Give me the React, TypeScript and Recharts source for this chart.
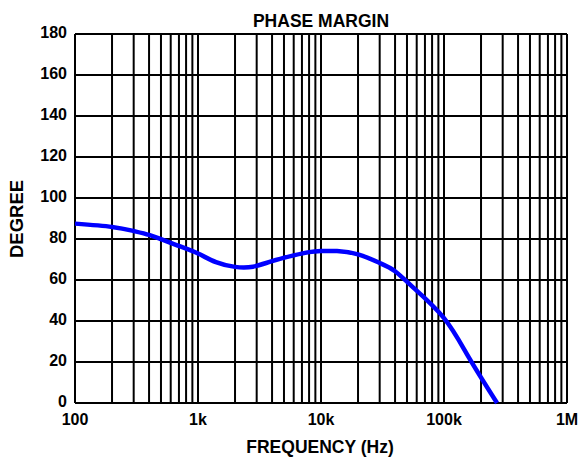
import { LineChart, Line, XAxis, YAxis, CartesianGrid } from "recharts";

const frequencies = [
  100, 200, 300, 400, 500, 700, 1000, 1400, 2000, 2800, 4000, 6000, 8000,
  10000, 13500, 20000, 30000, 40000, 56000, 100000, 160000, 270000,
];
const phaseDeg = [
  87.5, 85.9, 83.9, 82.0, 79.9, 76.6, 72.9, 68.7, 66.4, 66.5, 69.2, 72.0,
  73.6, 74.1, 74.1, 72.5, 68.3, 64.3, 56.4, 41.4, 22.0, 0,
];

const decadeTicks = [100, 1000, 10000, 100000, 1000000];
const decadeLabels = ["100", "1k", "10k", "100k", "1M"];
const gridTicks = [
  100, 200, 300, 400, 500, 600, 700, 800, 900,
  1000, 2000, 3000, 4000, 5000, 6000, 7000, 8000, 9000,
  10000, 20000, 30000, 40000, 50000, 60000, 70000, 80000, 90000,
  100000, 200000, 300000, 400000, 500000, 600000, 700000, 800000, 900000,
  1000000,
];
const degreeTicks = [0, 20, 40, 60, 80, 100, 120, 140, 160, 180];

const data = frequencies.map((f, i) => ({ freq: f, phase: phaseDeg[i] }));

const font = "'Liberation Sans', Arial, sans-serif";
const tickStyle = { fontSize: 16, fontWeight: 700, fill: "#000", fontFamily: font };
const labelStyle = { ...tickStyle, fontSize: 17.5 };

export default function App() {
  return (
    <div style={{ position: "absolute", left: 0, top: 0, background: "#fff" }}>
      <LineChart
        width={579}
        height={457}
        data={data}
        margin={{ top: 34, right: 12, bottom: 24, left: 0 }}
      >
        <text x={321} y={27} textAnchor="middle" style={labelStyle}>
          PHASE MARGIN
        </text>
        <text x={320} y={453} textAnchor="middle" style={labelStyle}>
          FREQUENCY (Hz)
        </text>
        <text
          x={23}
          y={219}
          textAnchor="middle"
          transform="rotate(-90 23 219)"
          style={{ ...labelStyle, fontSize: 18.5 }}
        >
          DEGREE
        </text>
        <CartesianGrid stroke="#000" strokeWidth={2} strokeOpacity={1} />
        <XAxis
          dataKey="freq"
          type="number"
          scale="log"
          domain={[100, 1000000]}
          ticks={gridTicks}
          interval={0}
          height={30}
          tickSize={0}
          tickMargin={11}
          axisLine={false}
          tickLine={false}
          tick={tickStyle}
          tickFormatter={(v: number) => {
            const i = decadeTicks.indexOf(v);
            return i >= 0 ? decadeLabels[i] : "";
          }}
        />
        <YAxis
          type="number"
          domain={[0, 180]}
          ticks={degreeTicks}
          interval={0}
          width={75}
          tickSize={0}
          tickMargin={8}
          axisLine={false}
          tickLine={false}
          tick={{ ...tickStyle, dy: -2 }}
        />
        <Line
          type="natural"
          dataKey="phase"
          stroke="#0000ff"
          strokeWidth={4.5}
          dot={false}
          isAnimationActive={false}
        />
      </LineChart>
    </div>
  );
}
